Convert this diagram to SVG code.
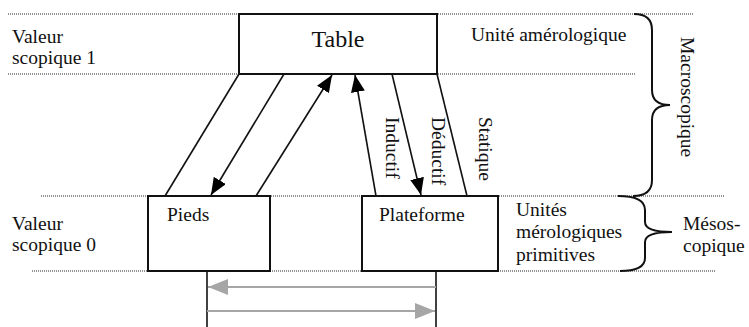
<svg xmlns="http://www.w3.org/2000/svg" width="749" height="327" viewBox="0 0 749 327">
<style>
text{font-family:"Liberation Serif","Times New Roman",serif;font-size:19.5px;fill:#111}
.dot{stroke:#222;stroke-width:1;stroke-dasharray:1 1;fill:none}
.box{fill:#fff;stroke:#111;stroke-width:2}
.ln{stroke:#111;stroke-width:1.6;fill:none}
.gr{stroke:#a6a6a6;stroke-width:2.2;fill:none}
.brace{stroke:#111;stroke-width:2;fill:none}
</style>
<defs>
<marker id="ab" viewBox="0 0 17 14" refX="17" refY="7" markerWidth="17" markerHeight="14" markerUnits="userSpaceOnUse" orient="auto">
<path d="M0,0 L17,7 L0,14 z" fill="#000"/>
</marker>
<marker id="ag" viewBox="0 0 20 16" refX="20" refY="8" markerWidth="20" markerHeight="16" markerUnits="userSpaceOnUse" orient="auto">
<path d="M0,0 L20,8 L0,16 z" fill="#a6a6a6"/>
</marker>
</defs>
<g id="levels">
<line class="dot" x1="8" y1="14" x2="693" y2="14"/>
<line class="dot" x1="8" y1="74" x2="635" y2="74"/>
<line class="dot" x1="41" y1="196" x2="725" y2="196"/>
<line class="dot" x1="32" y1="271" x2="715" y2="271"/>
</g>
<g id="labels">
<text x="12" y="43">Valeur</text>
<text x="12" y="64">scopique 1</text>
<text x="12" y="230">Valeur</text>
<text x="12" y="251">scopique 0</text>
<text x="471" y="41">Unité amérologique</text>
<text x="516" y="216">Unités</text>
<text x="516" y="238">mérologiques</text>
<text x="516" y="261">primitives</text>
<text x="683" y="230">Mésos-</text>
<text x="683" y="252">copique</text>
<text transform="translate(681,37) rotate(90)">Macroscopique</text>
</g>
<g id="braces">
<path class="brace" d="M634,14 Q652,14 652,30 L652,90 Q652,105 670,105 Q652,105 652,120 L652,180 Q652,196 633,196"/>
<path class="brace" d="M618,196 Q645,196 645,210 L645,222 Q645,232 672,232 Q645,232 645,242 L645,258 Q645,271 620,271"/>
</g>
<g id="connectors">
<line class="ln" x1="239" y1="74" x2="165" y2="196"/>
<line class="ln" x1="284" y1="74" x2="211" y2="195" marker-end="url(#ab)"/>
<line class="ln" x1="256" y1="196" x2="332" y2="75" marker-end="url(#ab)"/>
<line class="ln" x1="376" y1="196" x2="355" y2="75" marker-end="url(#ab)"/>
<line class="ln" x1="392" y1="74" x2="421" y2="195" marker-end="url(#ab)"/>
<line class="ln" x1="437" y1="74" x2="467" y2="196"/>
<text transform="translate(386,117) rotate(90)">Inductif</text>
<text transform="translate(432,117) rotate(90)">Déductif</text>
<text transform="translate(479,117) rotate(90)">Statique</text>
<line class="ln" x1="207" y1="271" x2="207" y2="327"/>
<line class="ln" x1="436" y1="271" x2="436" y2="327"/>
<line class="gr" x1="436" y1="287" x2="208" y2="287" marker-end="url(#ag)"/>
<line class="gr" x1="207" y1="311" x2="435" y2="311" marker-end="url(#ag)"/>
</g>
<g id="table">
<rect class="box" x="239" y="14" width="198" height="60"/>
<text x="338" y="47" text-anchor="middle" style="font-size:24px">Table</text>
</g>
<g id="pieds">
<rect class="box" x="148" y="196" width="122" height="75"/>
<text x="167" y="221">Pieds</text>
</g>
<g id="plateforme">
<rect class="box" x="362" y="196" width="136" height="75"/>
<text x="379" y="221">Plateforme</text>
</g>
</svg>
